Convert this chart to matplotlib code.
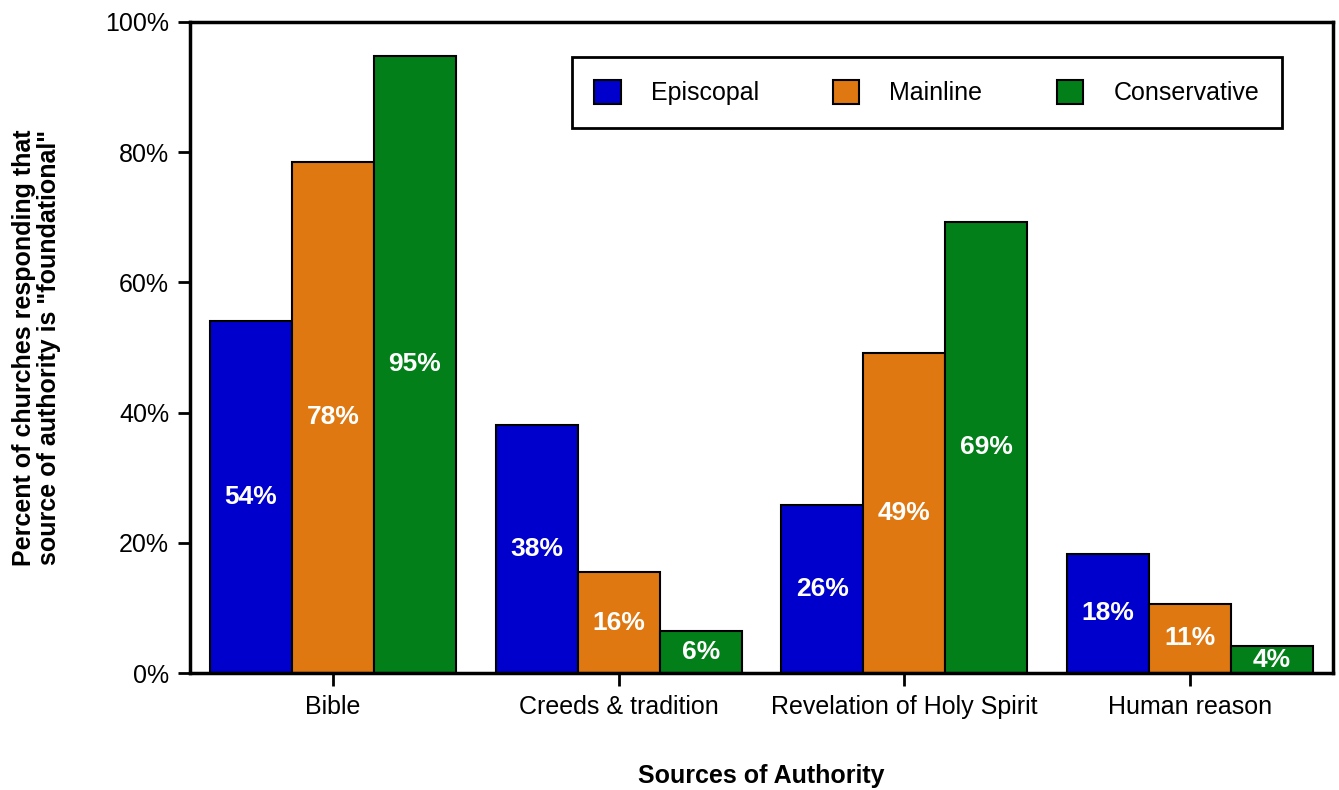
import numpy as np
import matplotlib.pyplot as plt
from matplotlib.ticker import FuncFormatter

plt.rcParams["font.family"] = ["Liberation Sans", "DejaVu Sans"]

categories = ["Bible", "Creeds & tradition", "Revelation of Holy Spirit", "Human reason"]
series_names = ["Episcopal", "Mainline", "Conservative"]
episcopal = [54, 38, 26, 18]
mainline = [78, 16, 49, 11]
conservative = [95, 6, 69, 4]
# bar heights (labels are rounded)
episcopal_h = [54.1, 38.1, 25.8, 18.3]
mainline_h = [78.5, 15.5, 49.2, 10.6]
conservative_h = [94.8, 6.4, 69.3, 4.1]

colors = ["#0000CC", "#E07812", "#027F18"]

fig = plt.figure(figsize=(13.39, 7.90), dpi=100)
ax = fig.add_axes([0.1419, 0.1481, 0.8536, 0.8241])

x = np.arange(len(categories))
w = 0.287
labels = [episcopal, mainline, conservative]
heights = [episcopal_h, mainline_h, conservative_h]
for i, (name, h, lab, c) in enumerate(zip(series_names, heights, labels, colors)):
    bars = ax.bar(x + (i - 1) * w, h, width=w, color=c, edgecolor="black",
                  linewidth=1.5, label=name, zorder=2)
    for b, hv, lv in zip(bars, h, lab):
        ax.text(b.get_x() + b.get_width() / 2, hv / 2, f"{lv}%", ha="center",
                va="center", color="white", fontsize=19, fontweight="bold")

ax.set_xlim(-0.5, 3.5)
ax.set_ylim(0, 100)
ax.set_yticks(range(0, 101, 20))
ax.yaxis.set_major_formatter(FuncFormatter(lambda v, p: f"{int(v)}%"))
ax.set_xticks(x)
ax.set_xticklabels(categories)
ax.tick_params(axis="both", labelsize=18, width=2, length=9, direction="out")
ax.tick_params(axis="y", pad=6)
ax.tick_params(axis="x", pad=7)
for s in ax.spines.values():
    s.set_linewidth(2.5)

ax.set_xlabel("Sources of Authority", fontsize=18, fontweight="bold", va="center")
ax.xaxis.set_label_coords(0.5, -0.158)
ax.set_ylabel('Percent of churches responding that\nsource of authority is "foundational"',
              fontsize=18, fontweight="bold", va="center", linespacing=1.05)
ax.yaxis.set_label_coords(-0.1345, 0.5)

leg = ax.legend(loc="upper left", bbox_to_anchor=(0.334, 0.946, 0.621, 0.0),
                mode="expand", ncol=3, fontsize=18, frameon=True, fancybox=False,
                framealpha=1, edgecolor="black", handlelength=1.05, handleheight=1.1,
                handletextpad=1.2, borderpad=0.9, borderaxespad=0)
leg.get_frame().set_linewidth(2)

fig.savefig("out.png", dpi=100)
